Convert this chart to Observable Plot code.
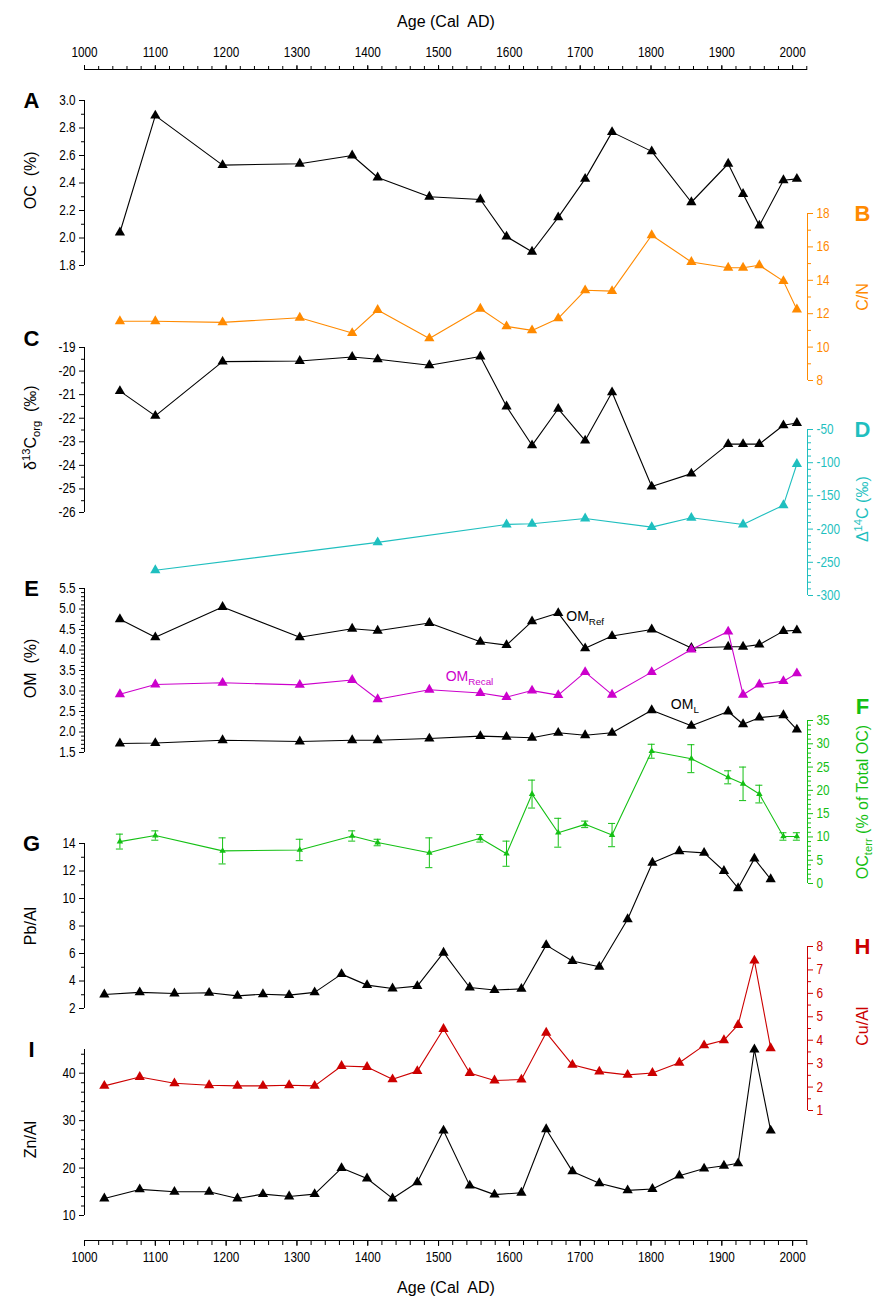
<!DOCTYPE html>
<html><head><meta charset="utf-8">
<script src="https://cdn.jsdelivr.net/npm/d3@7"></script>
<script src="https://cdn.jsdelivr.net/npm/@observablehq/plot@0.6"></script>
<style>
body{margin:0;background:#fff;}
#chart{position:relative;width:878px;height:1300px;background:#fff;}
#chart svg{position:absolute;left:0;top:0;overflow:visible;background:transparent;}
</style></head><body><div id="chart"></div>
<script>
// ---------- data ----------
const sampleYears = [1050, 1100, 1195, 1304, 1378, 1414, 1487, 1559, 1596, 1632, 1669, 1707, 1745, 1801, 1857, 1909, 1930, 1953, 1987, 2006];
const ocPercent = [2.04, 2.89, 2.53, 2.54, 2.60, 2.44, 2.30, 2.28, 2.01, 1.90, 2.15, 2.43, 2.77, 2.63, 2.26, 2.54, 2.32, 2.09, 2.42, 2.43];
const cnRatio = [11.55, 11.55, 11.48, 11.76, 10.84, 12.22, 10.52, 12.3, 11.24, 11.0, 11.72, 13.4, 13.35, 16.7, 15.1, 14.75, 14.75, 14.9, 13.95, 12.25];
const d13Corg = [-20.85, -21.9, -19.6, -19.57, -19.4, -19.5, -19.75, -19.38, -21.5, -23.15, -21.6, -22.95, -20.9, -24.9, -24.35, -23.1, -23.1, -23.1, -22.3, -22.2];
const d14CYears = [1100, 1414, 1596, 1632, 1707, 1801, 1857, 1930, 1987, 2006];
const d14C = [-262, -220, -193, -192, -184, -197, -183, -193, -164, -102];
const omRef = [4.75, 4.31, 5.05, 4.31, 4.52, 4.47, 4.66, 4.2, 4.12, 4.7, 4.9, 4.04, 4.34, 4.5, 4.05, 4.08, 4.08, 4.13, 4.46, 4.48];
const omRecal = [2.92, 3.16, 3.2, 3.15, 3.27, 2.8, 3.03, 2.95, 2.85, 3.01, 2.9, 3.46, 2.91, 3.46, 4.01, 4.45, 2.91, 3.16, 3.24, 3.43];
const omL = [1.72, 1.73, 1.8, 1.77, 1.8, 1.8, 1.84, 1.9, 1.88, 1.86, 1.98, 1.92, 1.98, 2.53, 2.15, 2.5, 2.19, 2.35, 2.41, 2.06];
const ocTerr = [9.0, 10.3, 7.0, 7.2, 10.2, 8.8, 6.6, 9.7, 6.4, 19.2, 10.9, 12.7, 10.4, 28.4, 26.8, 22.8, 21.4, 19.2, 10.1, 10.1];
const ocTerrErr = [1.6, 1.0, 2.8, 2.3, 1.1, 0.7, 3.2, 0.8, 2.7, 3.0, 3.1, 0.7, 2.5, 1.5, 3.0, 1.4, 3.6, 1.9, 0.8, 0.8];
const metalYears = [1028, 1078, 1127, 1176, 1216, 1252, 1289, 1325, 1363, 1399, 1435, 1470, 1507, 1544, 1579, 1617, 1652, 1689, 1727, 1767, 1802, 1840, 1875, 1903, 1923, 1946, 1969];
const pbAl = [3.02, 3.17, 3.09, 3.14, 2.92, 3.04, 2.97, 3.17, 4.5, 3.7, 3.46, 3.63, 6.06, 3.53, 3.34, 3.43, 6.61, 5.45, 5.04, 8.49, 12.6, 13.44, 13.32, 12.0, 10.75, 12.9, 11.4];
const cuAl = [2.05, 2.43, 2.16, 2.08, 2.05, 2.05, 2.08, 2.05, 2.9, 2.86, 2.33, 2.68, 4.48, 2.6, 2.28, 2.32, 4.32, 2.95, 2.66, 2.52, 2.6, 3.04, 3.78, 4.0, 4.65, 7.4, 3.66];
const znAl = [13.6, 15.5, 15.0, 15.0, 13.6, 14.5, 14.0, 14.5, 20.0, 17.8, 13.6, 17.0, 27.9, 16.3, 14.4, 14.8, 28.2, 19.3, 16.8, 15.3, 15.6, 18.4, 19.9, 20.5, 21.0, 45.0, 27.9];
const ageTicks = d3.range(1000, 2001, 100);
const ageMinorTicks = d3.range(1000, 2021, 20);

// ---------- layout / style ----------
const W = 878, H = 1300, ML = 84, MR = 71;
const xDomain = [1000, 2021];
const FONT = "'Liberation Sans', Arial, sans-serif";
const NARROW = "'Liberation Sans Narrow', 'Arial Narrow', 'Liberation Sans', Arial, sans-serif";
const TICK_FS = 14;
const BLACK = "#000", ORANGE = "#ff8a00", CYAN = "#1fbfbf", MAGENTA = "#cc00cc", GREEN = "#14c014", RED = "#cc0000";

const rows = (xs, ys) => xs.map((year, i) => ({year, value: ys[i]}));

function yAxis(anchor, domain, major, minor, color, fmt) {
  const f = fmt || (d => String(d));
  return [
    Plot.ruleX([anchor === "left" ? xDomain[0] : xDomain[1]], {y1: domain[0], y2: domain[1], stroke: color}),
    Plot.axisY({anchor, ticks: major, tickSize: 5, tickPadding: 4, tickFormat: f, color, stroke: color, fill: color, fontSize: TICK_FS, fontFamily: NARROW, label: null}),
    Plot.axisY({anchor, ticks: minor, tickSize: 3, tickFormat: () => "", color, stroke: color, label: null})
  ];
}
function series(data, color, r = 3.8) {
  return [
    Plot.line(data, {x: "year", y: "value", stroke: color, strokeWidth: 1.1}),
    Plot.dot(data, {x: "year", y: "value", symbol: "triangle", r, fill: color})
  ];
}
function letter(txt, side, y, color) {
  return Plot.text([txt], {text: d => d, x: side === "left" ? xDomain[0] : xDomain[1], y, dx: side === "left" ? -53 : 55,
    fontSize: 22, fontWeight: "bold", fill: color, fontFamily: FONT});
}
function title(txt, side, y, color, dx) {
  return Plot.text([txt], {text: d => d, x: side === "left" ? xDomain[0] : xDomain[1], y, dx: dx ?? (side === "left" ? -54 : 55),
    rotate: -90, fontSize: 16, fill: color, fontFamily: FONT});
}
function panel(domain, range, marks) {
  return Plot.plot({
    width: W, height: H, marginLeft: ML, marginRight: MR, marginTop: 0, marginBottom: 0,
    x: {domain: xDomain, axis: null},
    y: {domain, range, axis: null},
    style: {background: "transparent", overflow: "visible", fontFamily: FONT},
    marks
  });
}

// rich text: _{sub} and ^{sup}
function richify(svg) {
  d3.select(svg).selectAll("text").each(function() {
    const t = this.textContent;
    if (!/[_^]\{/.test(t)) return;
    const parts = t.split(/([_^]\{[^}]*\})/).filter(s => s.length);
    while (this.firstChild) this.removeChild(this.firstChild);
    let shift = 0;
    for (const p of parts) {
      const ts = document.createElementNS("http://www.w3.org/2000/svg", "tspan");
      let s = 0, txt = p;
      if (p.startsWith("_{")) { s = 0.3; txt = p.slice(2, -1); ts.setAttribute("font-size", "70%"); }
      else if (p.startsWith("^{")) { s = -0.38; txt = p.slice(2, -1); ts.setAttribute("font-size", "70%"); }
      const d = s - shift;
      if (d !== 0) ts.setAttribute("dy", (s !== 0 ? d / 0.7 : d) + "em");
      shift = s;
      ts.textContent = txt;
      this.appendChild(ts);
    }
  });
  return svg;
}
// narrow look for tick labels (Arial Narrow style)
function condense(svg, k) {
  d3.select(svg).selectAll('g[aria-label$="tick label"] text').each(function() {
    const w = this.getComputedTextLength();
    if (w > 0) { this.setAttribute("textLength", (w * k).toFixed(2)); this.setAttribute("lengthAdjust", "spacingAndGlyphs"); }
  });
}

const chart = document.getElementById("chart");
const add = svg => { chart.appendChild(richify(svg)); condense(svg, 0.84); };

// ---------- shared age axes (top & bottom) ----------
add(Plot.plot({
  width: W, height: H, marginLeft: ML, marginRight: MR, marginTop: 69, marginBottom: 60,
  x: {domain: xDomain, axis: null},
  y: {domain: [0, 1], axis: null},
  style: {background: "transparent", overflow: "visible", fontFamily: FONT},
  marks: [
    Plot.ruleY([0, 1]),
    Plot.axisX({anchor: "top", ticks: ageTicks, tickSize: 5, tickPadding: 8, tickFormat: d => String(d), fontSize: TICK_FS, fontFamily: NARROW, label: null}),
    Plot.axisX({anchor: "top", ticks: ageMinorTicks, tickSize: 4, tickFormat: () => "", label: null}),
    Plot.axisX({anchor: "bottom", ticks: ageTicks, tickSize: 6, tickPadding: 6, tickFormat: d => String(d), fontSize: TICK_FS, fontFamily: NARROW, label: null}),
    Plot.axisX({anchor: "bottom", ticks: ageMinorTicks, tickSize: 5, tickFormat: () => "", label: null}),
    Plot.text(["Age (Cal\u00a0 AD)"], {text: d => d, frameAnchor: "top", dy: -54, fontSize: 16}),
    Plot.text(["Age (Cal\u00a0 AD)"], {text: d => d, frameAnchor: "bottom", dy: 52, fontSize: 16})
  ]
}));

// A: OC
add(panel([1.8, 3.0], [265, 100], [
  ...yAxis("left", [1.8, 3.0], d3.range(1.8, 3.01, 0.2).map(v => +v.toFixed(1)), d3.range(1.9, 3.0, 0.2).map(v => +v.toFixed(1)), BLACK, d3.format(".1f")),
  ...series(rows(sampleYears, ocPercent), BLACK),
  letter("A", "left", 3.0, BLACK),
  title("OC  (%)", "left", 2.42, BLACK)
]));

// B: C/N
add(panel([8, 18], [380, 213], [
  ...yAxis("right", [8, 18], [8, 10, 12, 14, 16, 18], [9, 11, 13, 15, 17], ORANGE),
  ...series(rows(sampleYears, cnRatio), ORANGE),
  letter("B", "right", 18, ORANGE),
  title("C/N", "right", 13.0, ORANGE)
]));

// C: d13C
add(panel([-26, -19], [512, 347], [
  ...yAxis("left", [-26, -19], d3.range(-26, -18, 1), d3.range(-25.5, -19, 1), BLACK),
  ...series(rows(sampleYears, d13Corg), BLACK),
  letter("C", "left", -18.65, BLACK),
  title("δ^{13}C_{org}  (‰)", "left", -22.4, BLACK)
]));

// D: D14C
add(panel([-300, -50], [595, 429], [
  ...yAxis("right", [-300, -50], d3.range(-300, -49, 50), d3.range(-290, -50, 10).filter(v => v % 50 !== 0), CYAN),
  ...series(rows(d14CYears, d14C), CYAN),
  letter("D", "right", -50, CYAN),
  title("Δ^{14}C (‰)", "right", -170, CYAN)
]));

// E: OM
add(panel([1.5, 5.5], [752, 588], [
  ...yAxis("left", [1.5, 5.5], d3.range(1.5, 5.51, 0.5).map(v => +v.toFixed(1)), d3.range(1.6, 5.5, 0.1).map(v => +v.toFixed(1)).filter(v => Math.round(v * 10) % 5 !== 0), BLACK, d3.format(".1f")),
  ...series(rows(sampleYears, omRef), BLACK),
  ...series(rows(sampleYears, omRecal), MAGENTA),
  ...series(rows(sampleYears, omL), BLACK),
  letter("E", "left", 5.5, BLACK),
  title("OM  (%)", "left", 3.55, BLACK),
  Plot.text(["OM_{Ref}"], {text: d => d, x: 1669, y: 4.9, dx: 8, dy: 3, textAnchor: "start", fontSize: 14, fill: BLACK}),
  Plot.text(["OM_{Recal}"], {text: d => d, x: 1510, y: 3.35, textAnchor: "start", fontSize: 14, fill: MAGENTA}),
  Plot.text(["OM_{L}"], {text: d => d, x: 1828, y: 2.67, textAnchor: "start", fontSize: 14, fill: BLACK})
]));

// F: OC terr
const ocTerrRows = sampleYears.map((year, i) => ({year, value: ocTerr[i], err: ocTerrErr[i]}));
add(panel([0, 35], [883, 720], [
  ...yAxis("right", [0, 35], d3.range(0, 36, 5), d3.range(1, 35, 1).filter(v => v % 5 !== 0), GREEN),
  Plot.ruleX(ocTerrRows, {x: "year", y1: d => d.value - d.err, y2: d => d.value + d.err, stroke: GREEN}),
  Plot.ruleY(ocTerrRows, {y: d => d.value + d.err, x1: d => d.year - 5, x2: d => d.year + 5, stroke: GREEN}),
  Plot.ruleY(ocTerrRows, {y: d => d.value - d.err, x1: d => d.year - 5, x2: d => d.year + 5, stroke: GREEN}),
  ...series(ocTerrRows, GREEN, 2.4),
  letter("F", "right", 38, GREEN),
  title("OC_{terr} (% of Total OC)", "right", 17.5, GREEN)
]));

// G: Pb/Al
add(panel([2, 14], [1008, 843], [
  ...yAxis("left", [2, 14], d3.range(2, 15, 2), d3.range(3, 14, 2), BLACK),
  ...series(rows(metalYears, pbAl), BLACK),
  letter("G", "left", 14, BLACK),
  title("Pb/Al", "left", 8, BLACK)
]));

// H: Cu/Al
add(panel([1, 8], [1110, 946], [
  ...yAxis("right", [1, 8], d3.range(1, 9, 1), d3.range(1.5, 8, 1), RED),
  ...series(rows(metalYears, cuAl), RED),
  letter("H", "right", 8, RED),
  title("Cu/Al", "right", 4.6, RED)
]));

// I: Zn/Al
add(panel([10, 45], [1215, 1049], [
  ...yAxis("left", [10, 45], [10, 20, 30, 40], d3.range(12, 45, 2).filter(v => v % 10 !== 0), BLACK),
  ...series(rows(metalYears, znAl), BLACK),
  letter("I", "left", 45, BLACK),
  title("Zn/Al", "left", 26, BLACK)
]));
</script></body></html>
